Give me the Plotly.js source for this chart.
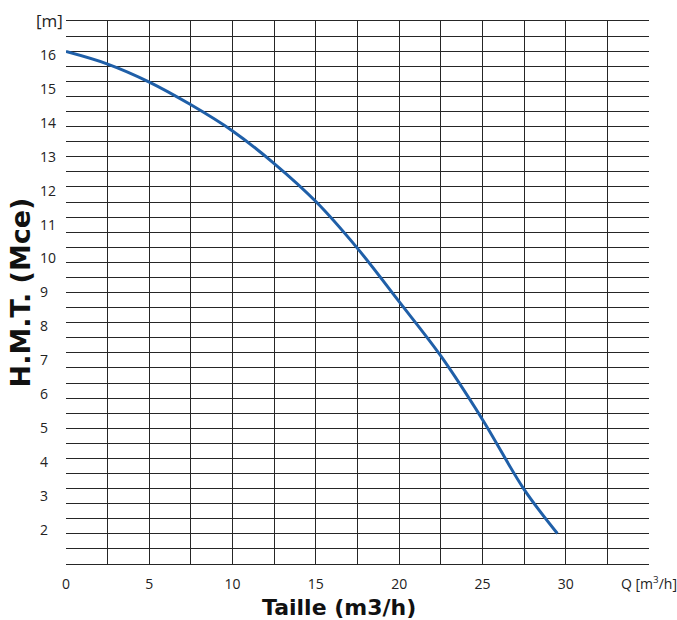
<!DOCTYPE html>
<html><head><meta charset="utf-8">
<script src="https://cdn.plot.ly/plotly-3.0.1.min.js"></script>
<style>html,body{margin:0;padding:0;background:#fff}</style>
</head><body><div id="chart" style="width:677px;height:620px"></div>
<script>
const flowQ = [0, 2.5, 5, 7.5, 10, 12.5, 15, 17.5, 20, 22.5, 25, 27.5, 29.5];
const headH = [16.1, 15.73, 15.2, 14.53, 13.76, 12.8, 11.68, 10.3, 8.73, 7.13, 5.26, 3.2, 1.9];
const xTickVals = [0, 5, 10, 15, 20, 25, 30, 35];
const xTickText = ['0', '5', '10', '15', '20', '25', '30', 'Q [m<sup>3</sup>/h]'];
const yTickVals = [2, 3, 4, 5, 6, 7, 8, 9, 10, 11, 12, 13, 14, 15, 16];
const yTickText = ['2', '3', '4', '5', '6', '7', '8', '9', '10', '11', '12', '13', '14', '15', '16'];
const yUnitLabel = '[m]';
const xTitle = 'Taille (m3/h)';
const yTitle = 'H.M.T. (Mce)';

const gridCol = '#262626';
const ML = 36, MR = 28, MT = 21, MB = 56, W = 677, H = 620;
const PW = W - ML - MR;

const trace = {
  x: flowQ, y: headH, type: 'scatter', mode: 'lines',
  line: {color: '#1F5FA8', width: 3, shape: 'spline'},
  hoverinfo: 'x+y', showlegend: false
};

const layout = {
  width: W, height: H,
  margin: {l: ML, r: MR, t: MT, b: MB},
  paper_bgcolor: '#fff', plot_bgcolor: '#fff',
  font: {family: 'Open Sans, sans-serif', color: '#222'},
  xaxis: {
    domain: [(66 - ML) / PW, 1],
    range: [0, 35], tickmode: 'array', tickvals: xTickVals, ticktext: xTickText,
    showgrid: true, gridcolor: gridCol, gridwidth: 1,
    minor: {tick0: 0, dtick: 2.5, showgrid: true, gridcolor: gridCol, gridwidth: 1, ticks: ''},
    showline: true, mirror: true, linecolor: gridCol, linewidth: 1,
    zeroline: false, ticks: '', ticklabelstandoff: 7,
    tickfont: {family: 'Open Sans, sans-serif', size: 14, color: '#222'},
    fixedrange: true
  },
  yaxis: {
    anchor: 'free', position: 0,
    range: [1, 17], tickmode: 'array', tickvals: yTickVals, ticktext: yTickText,
    ticklabelposition: 'inside',
    showgrid: false, zeroline: false, showline: false, ticks: '',
    minor: {tick0: 1, dtick: 16 / 36, showgrid: true, gridcolor: gridCol, gridwidth: 1, ticks: ''},
    tickfont: {family: 'Open Sans, sans-serif', size: 14, color: '#222'},
    title: {text: yTitle, font: {family: 'DejaVu Sans, sans-serif', size: 27, weight: 'bold', color: '#111'}, standoff: 0},
    fixedrange: true
  },
  annotations: [
    {text: yUnitLabel, xref: 'paper', yref: 'paper', x: 0, y: 1, xanchor: 'left', yanchor: 'middle',
     xshift: -2, yshift: 1, showarrow: false, font: {family: 'Open Sans, sans-serif', size: 17, color: '#222'}},
    {text: xTitle, xref: 'paper', yref: 'paper', x: (339 - ML) / PW, y: 0, xanchor: 'center', yanchor: 'middle',
     yshift: -43, showarrow: false, font: {family: 'DejaVu Sans, sans-serif', size: 22, weight: 'bold', color: '#111'}}
  ]
};

Plotly.newPlot('chart', [trace], layout, {displayModeBar: false, staticPlot: true});
</script></body></html>
